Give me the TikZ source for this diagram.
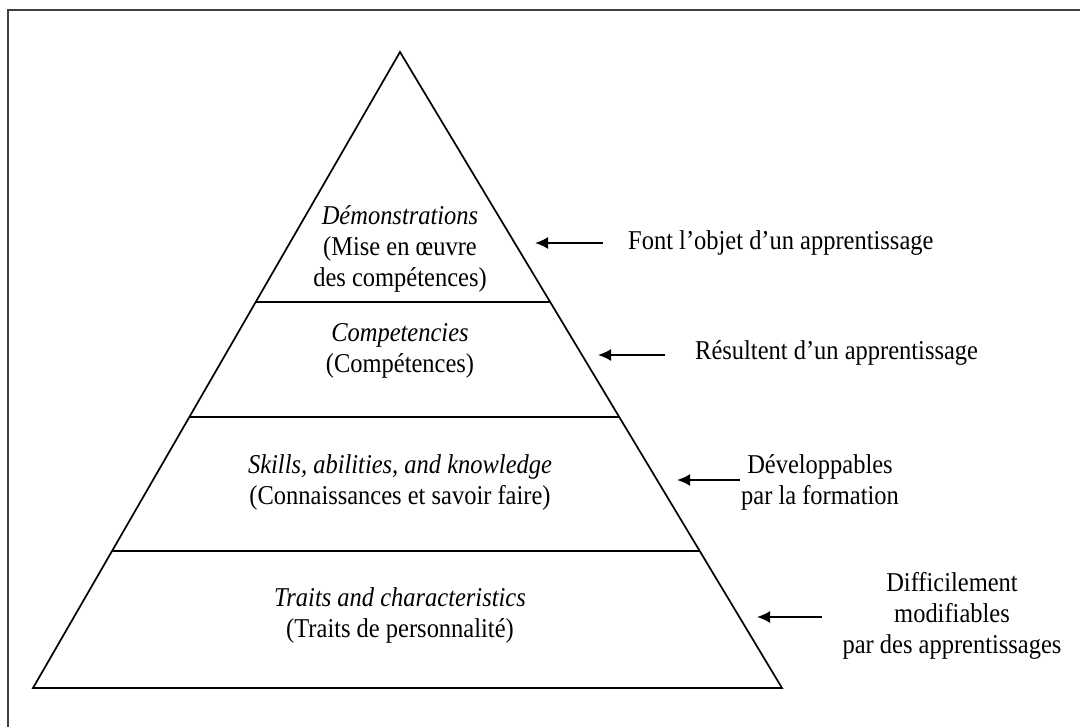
\documentclass[tikz,border=0pt]{standalone}
\usepackage{fontspec}
\setmainfont[FakeStretch=0.9]{Liberation Serif}
\usetikzlibrary{arrows.meta}
\begin{document}
\begin{tikzpicture}[x=1pt,y=-1pt,
    level/.style={align=center,inner sep=0pt,font=\fontsize{27.2}{31}\selectfont},
    note/.style={align=center,inner sep=0pt,font=\fontsize{27.2}{31}\selectfont},
    pointer/.style={line width=1.9pt,-{Latex[length=13pt,width=12pt]}}]
  \useasboundingbox (0,0) rectangle (1080,727);
  \begin{scope}
    % frame (cut off on the right and bottom)
    \draw [line width=2.4pt,color=black!75] (8,727) -- (8,10) -- (1080,10);

    % pyramid
    \draw [line width=1.7pt,line join=miter] (400,52) -- (782,688) -- (33,688) -- cycle;
    \draw [line width=1.7pt] (256,302) -- (550,302);
    \draw [line width=1.7pt] (189,417) -- (619,417);
    \draw [line width=1.7pt] (112,551) -- (699,551);

    \node [level] (demo) at (400,249) {\textit{Démonstrations}\\(Mise en œuvre\\des compétences)};
    \node [level] (comp) at (400,351) {\textit{Competencies}\\(Compétences)};
    \node [level] (skill) at (400,482) {\textit{Skills, abilities, and knowledge}\\(Connaissances et savoir faire)};
    \node [level] (trait) at (400,615) {\textit{Traits and characteristics}\\(Traits de personnalité)};

    \node [note,anchor=west] (objet) at (628,243) {Font l’objet d’un apprentissage};
    \node [note,anchor=west] (result) at (695,353) {Résultent d’un apprentissage};
    \node [note] (devel) at (820,482) {Développables\\par la formation};
    \node [note] (diffic) at (952,616) {Difficilement\\modifiables\\par des apprentissages};

    \coordinate (t1) at (603,243); \coordinate (h1) at (535,243);
    \coordinate (t2) at (665,355); \coordinate (h2) at (598,355);
    \coordinate (t3) at (740,480); \coordinate (h3) at (677,480);
    \coordinate (t4) at (822,617); \coordinate (h4) at (757,617);
    \draw [pointer] (t1) -- (h1);
    \draw [pointer] (t2) -- (h2);
    \draw [pointer] (t3) -- (h3);
    \draw [pointer] (t4) -- (h4);
  \end{scope}
\end{tikzpicture}
\end{document}
